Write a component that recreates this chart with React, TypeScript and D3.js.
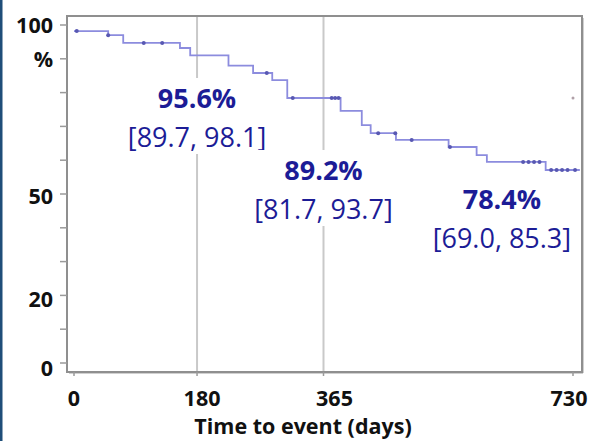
import React from "react";
import * as d3 from "d3";

const stepDays = [0, 50, 72, 155, 170, 226, 262, 290, 312, 390, 421, 434, 471, 548, 589, 604, 690, 740];
const stepSurv = [98.2, 97.0, 94.7, 93.2, 91.0, 88.0, 85.8, 83.7, 78.4, 74.6, 70.4, 68.0, 66.0, 63.9, 61.5, 59.5, 57.1, 57.1];
const censorDays = [4, 50, 102, 129, 282, 320, 377, 382, 387, 445, 470, 494, 550, 657, 665, 673, 681, 698, 706, 714, 722, 733];
const otherDay = [730];
const otherSurv = [78.4];

const xTicks = [0, 180, 365, 730];
const refDays = [180, 365];
const yTicks = [0, 10, 20, 30, 40, 50, 60, 70, 80, 90, 100];
const yLabels: Record<number, string> = { 100: "100", 90: "%", 50: "50", 20: "20", 0: "0" };

const annotDays = [180, 365, 626];
const annotMain = ["95.6%", "89.2%", "78.4%"];
const annotCI = ["[89.7, 98.1]", "[81.7, 93.7]", "[69.0, 85.3]"];
const annotBaseline = [108, 180, 209];

const W = 590, H = 441;
const FONT = "'Open Sans', 'DejaVu Sans', sans-serif";
const NAVY = "#1c1c96";
const xLabelNudge = [0, 5, 11, -4];

function survAt(t: number) {
  let v = stepSurv[0];
  for (let i = 0; i < stepDays.length; i++) if (stepDays[i] <= t) v = stepSurv[i];
  return v;
}

export default function App() {
  const x = d3.scaleLinear().domain([0, 730]).range([74, 573]);
  const y = d3.scaleLinear().domain([0, 100]).range([363, 25]);
  const frame = { l: 67, t: 16, r: 582, b: 372 };
  const pts = stepDays.map((d, i) => [d, stepSurv[i]] as [number, number]);
  const line = d3.line<[number, number]>().x(d => x(d[0])).y(d => y(d[1])).curve(d3.curveStepAfter);

  return (
    <svg width={W} height={H} style={{ position: "fixed", left: 0, top: 0, background: "#fff" }}>
      <rect x={0} y={0} width={W} height={H} fill="#fff" />
      <rect x={0} y={0} width={2.5} height={H} fill="#1f4e79" />
      {refDays.map(d => (
        <line key={d} x1={x(d)} x2={x(d)} y1={frame.t} y2={frame.b} stroke="#c9c9c9" strokeWidth={2} />
      ))}
      <rect x={frame.l} y={frame.t} width={frame.r - frame.l} height={frame.b - frame.t} fill="none" stroke="#8f8f8f" strokeWidth={2} />
      <line x1={frame.l + 2} x2={frame.r + 1} y1={frame.b + 1.5} y2={frame.b + 1.5} stroke="#d0d0d0" strokeWidth={1} />
      <line x1={frame.r + 1.5} x2={frame.r + 1.5} y1={frame.t + 2} y2={frame.b + 1} stroke="#d0d0d0" strokeWidth={1} />
      {yTicks.map(t => (
        <line key={t} x1={frame.l - 7} x2={frame.l} y1={y(t)} y2={y(t)} stroke="#9a9a9a" strokeWidth={1.5} />
      ))}
      {yTicks.filter(t => yLabels[t] !== undefined).map(t => (
        <text key={t} x={53} y={y(t) + 7.5 + (100 - t) * 0.05} textAnchor="end" fontFamily={FONT} fontWeight={700} fontSize={21.5} fill="#111">
          {yLabels[t]}
        </text>
      ))}
      {xTicks.map((t, i) => (
        <g key={t}>
          <line x1={x(t)} x2={x(t)} y1={frame.b} y2={frame.b + 4} stroke="#9a9a9a" strokeWidth={1.5} />
          <text x={x(t) + xLabelNudge[i]} y={406} textAnchor="middle" fontFamily={FONT} fontWeight={700} fontSize={21.5} fill="#111">{t}</text>
        </g>
      ))}
      <text x={303} y={434} textAnchor="middle" fontFamily={FONT} fontWeight={700} fontSize={21.5} fill="#111">Time to event (days)</text>
      <path d={line(pts) || ""} fill="none" stroke="#8c8cde" strokeWidth={1.8} />
      {censorDays.map((d, i) => (
        <circle key={i} cx={x(d)} cy={y(survAt(d))} r={2} fill="#5858b2" />
      ))}
      {otherDay.map((d, i) => (
        <circle key={i} cx={x(d)} cy={y(otherSurv[i])} r={1.5} fill="#b0a0a8" />
      ))}
      {annotDays.map((d, i) => (
        <g key={i}>
          <rect x={x(d) - 74} y={annotBaseline[i] - 30} width={148} height={76} fill="#fff" />
          <text x={x(d)} y={annotBaseline[i]} textAnchor="middle" fontFamily={FONT} fontWeight={700} fontSize={27} fill={NAVY}>{annotMain[i]}</text>
          <text x={x(d)} y={annotBaseline[i] + 39} textAnchor="middle" fontFamily={FONT} fontWeight={400} fontSize={27} fill={NAVY}>{annotCI[i]}</text>
        </g>
      ))}
    </svg>
  );
}
